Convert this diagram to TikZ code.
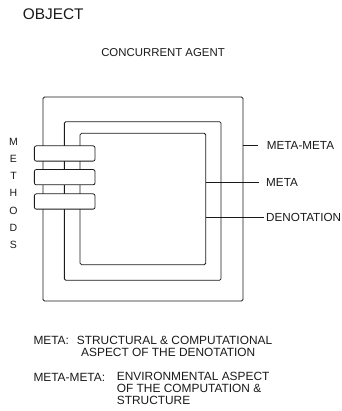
\documentclass[tikz,border=0pt]{standalone}
\usepackage{fontspec}
\setmainfont{Liberation Sans}
\usetikzlibrary{positioning}
\definecolor{objink}{HTML}{1A1A1A}
\tikzset{
  layerbox/.style={
    draw=objink, line width=0.8pt, rounded corners=1.5pt,
    inner sep=0pt
  },
  methodbox/.style={
    draw=objink, fill=white, line width=0.8pt, rounded corners=2pt,
    minimum width=60.7pt, minimum height=15.3pt, inner sep=0pt
  },
  letter/.style={font=\fontsize{10.5}{12}\selectfont, text=objink, inner sep=0pt},
  layerlabel/.style={font=\fontsize{11.7}{13}\selectfont, text=objink,
    anchor=west, inner sep=0pt},
  labelrule/.style={draw=objink, line width=0.7pt},
  notetext/.style={font=\fontsize{11.9}{12}\selectfont, text=objink,
    anchor=west, inner sep=0pt, align=left}
}

\begin{document}
\begin{tikzpicture}[x=1pt, y=-1pt]
  \useasboundingbox (0,0) rectangle (341,411);

  \node[font=\fontsize{15.4}{17}\selectfont, text=objink, anchor=west, inner sep=0pt]
    (title) at (22.7,14.7) {OBJECT};
  \node[layerlabel, anchor=center, font=\fontsize{11.4}{13}\selectfont]
    (agent) at (163,53) {CONCURRENT AGENT};

  % nested layers
  \node[layerbox, minimum width=200pt, minimum height=204pt]
    (metameta) at (143,199) {};
  \node[layerbox, minimum width=156.7pt, minimum height=158.6pt]
    (meta) at (142.7,201) {};
  \node[layerbox, minimum width=125.7pt, minimum height=131.4pt]
    (denot) at (142.9,199) {};

  % methods
  \foreach \y/\n in {153.5/1,177.2/2,201.5/3}
    \node[methodbox] (meth\n) at (64.7,\y) {};
  \foreach \l [count=\i] in {M,E,T,H,O,D,S}
    \node[letter] (let\i) at (13.5,{141.7+(\i-1)*17.2}) {\l};

  % layer labels
  \node[layerlabel] (lmm) at (266.7,145.7) {META-META};
  \node[layerlabel] (lm)  at (266,182.3) {META};
  \node[layerlabel] (ld)  at (266,217.7) {DENOTATION};

  \draw[labelrule] (metameta.east |- lmm.west) -- ([xshift=-9pt]lmm.west);
  \draw[labelrule] (denot.east |- lm.west) -- ([xshift=-7pt]lm.west);
  \draw[labelrule] (denot.east |- ld.west) -- ([xshift=-2pt]ld.west);

  % notes
  \node[notetext] (n1) at (33.3,340.7) {META:};
  \node[notetext] (n1a) at (76.7,340.7) {STRUCTURAL \& COMPUTATIONAL};
  \node[notetext] (n1b) at (81,352.3) {ASPECT OF THE DENOTATION};
  \node[notetext] (n2) at (33.3,377.3) {META-META:};
  \node[notetext, anchor=north west] (n2a) at (116.7,371.5)
    {ENVIRONMENTAL ASPECT\\OF THE COMPUTATION \&\\STRUCTURE};
\end{tikzpicture}
\end{document}
